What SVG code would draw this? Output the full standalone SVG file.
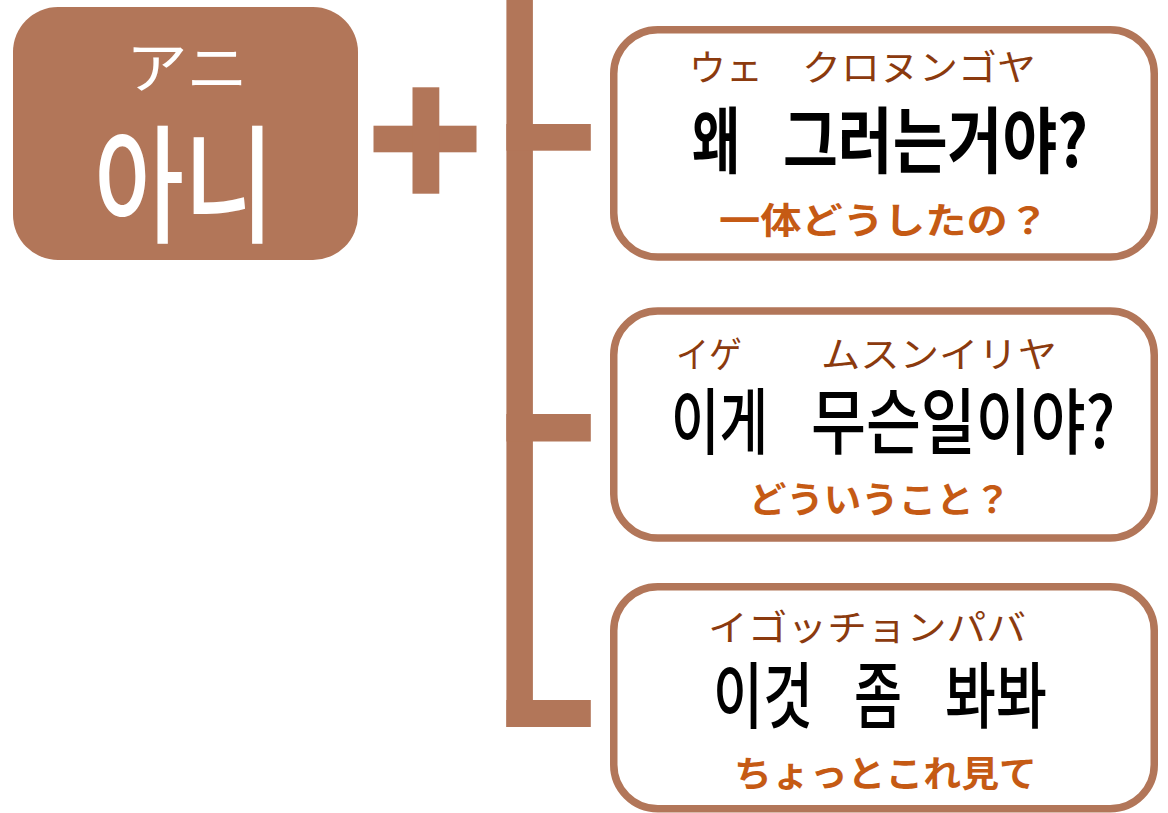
<svg xmlns="http://www.w3.org/2000/svg" width="1168" height="813" viewBox="0 0 1168 813">
<style>
.br{fill:#B27659}
.box{fill:#fff;stroke:#B27659;stroke-width:7.5}
.ruby{font-family:"Noto Sans CJK JP","Noto Sans CJK KR",sans-serif;font-size:36px;fill:#8B3A0E;font-weight:400}
.main{font-family:"Noto Sans CJK KR",sans-serif;font-size:72px;fill:#000;font-weight:700}
.main2{font-weight:500}
.sub{font-family:"Noto Sans CJK JP",sans-serif;font-size:36px;fill:#C55A14;font-weight:700}
</style>
<rect width="1168" height="813" fill="#fff"/>
<g id="anni">
<rect class="br" x="13" y="7" width="345" height="253" rx="45" ry="45"/>
<text x="126" y="88" font-family="Noto Sans CJK JP, sans-serif" font-size="56" fill="#fff" textLength="122" lengthAdjust="spacingAndGlyphs">アニ</text>
<text x="94" y="233" font-family="Noto Sans CJK KR, sans-serif" font-size="128" font-weight="500" fill="#fff" textLength="180" lengthAdjust="spacingAndGlyphs">아니</text>
</g>
<g id="plus">
<rect class="br" x="373.5" y="125.7" width="103" height="26.6"/>
<rect class="br" x="412.5" y="87.3" width="26.8" height="106.4"/>
</g>
<g id="connectors">
<rect class="br" x="506.4" y="0" width="26.5" height="727"/>
<rect class="br" x="506.4" y="124" width="84.4" height="26.7"/>
<rect class="br" x="506.4" y="414" width="84.4" height="27.5"/>
<rect class="br" x="506.4" y="700" width="84.4" height="27"/>
</g>
<g id="box1">
<rect class="box" x="613.75" y="29.75" width="540.5" height="227.2" rx="44"/>
<text class="ruby" x="689" y="81" textLength="74" lengthAdjust="spacingAndGlyphs">ウェ</text>
<text class="ruby" x="802" y="81" textLength="234" lengthAdjust="spacingAndGlyphs">クロヌンゴヤ</text>
<text class="main" x="692" y="167" textLength="48" lengthAdjust="spacingAndGlyphs">왜</text>
<text class="main" x="783" y="167" textLength="305" lengthAdjust="spacingAndGlyphs">그러는거야?</text>
<text class="sub" x="719" y="234" textLength="330" lengthAdjust="spacingAndGlyphs">一体どうしたの？</text>
</g>
<g id="box2">
<rect class="box" x="613.75" y="311" width="540.5" height="227" rx="44"/>
<text class="ruby" x="676" y="368" textLength="66" lengthAdjust="spacingAndGlyphs">イゲ</text>
<text class="ruby" x="821" y="368" textLength="236" lengthAdjust="spacingAndGlyphs">ムスンイリヤ</text>
<text class="main main2" x="671" y="448" textLength="97" lengthAdjust="spacingAndGlyphs">이게</text>
<text class="main main2" x="811" y="448" textLength="304" lengthAdjust="spacingAndGlyphs">무슨일이야?</text>
<text class="sub" x="749" y="513" textLength="262" lengthAdjust="spacingAndGlyphs">どういうこと？</text>
</g>
<g id="box3">
<rect class="box" x="613.75" y="586.75" width="540.5" height="222" rx="44"/>
<text class="ruby" x="708" y="641" textLength="318" lengthAdjust="spacingAndGlyphs">イゴッチョンパバ</text>
<text class="main main2" x="713" y="722" textLength="100" lengthAdjust="spacingAndGlyphs">이것</text>
<text class="main main2" x="854" y="722" textLength="48" lengthAdjust="spacingAndGlyphs">좀</text>
<text class="main main2" x="945" y="722" textLength="102" lengthAdjust="spacingAndGlyphs">봐봐</text>
<text class="sub" x="734" y="787" textLength="303" lengthAdjust="spacingAndGlyphs">ちょっとこれ見て</text>
</g>
</svg>
